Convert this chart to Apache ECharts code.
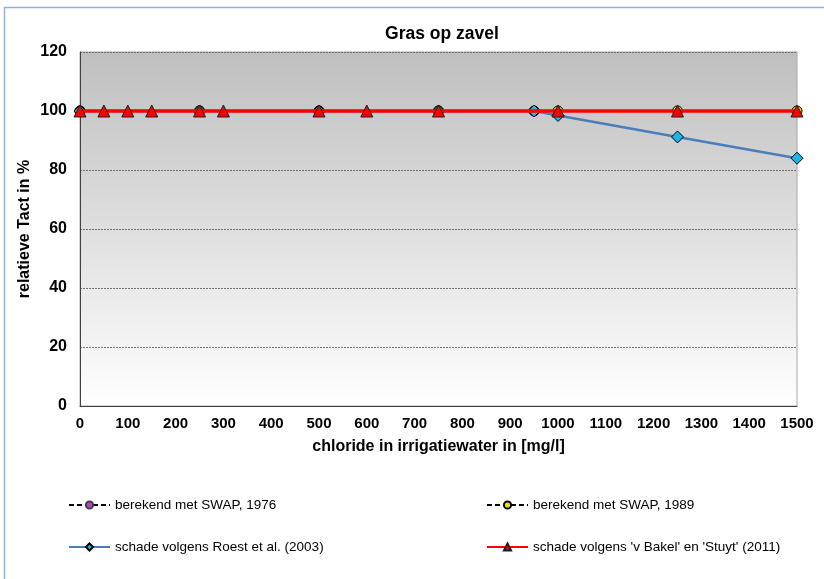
<!DOCTYPE html>
<html>
<head>
<meta charset="utf-8">
<script src="https://cdn.jsdelivr.net/npm/echarts@6/dist/echarts.min.js"></script>
<style>
html,body{margin:0;padding:0;background:#fff;}
#chart{width:824px;height:579px;}
</style>
</head>
<body>
<div id="chart"></div>
<script>
// chloride concentration (mg/l) vs. relative transpiration (%)
const xTicks = [0, 100, 200, 300, 400, 500, 600, 700, 800, 900, 1000, 1100, 1200, 1300, 1400, 1500];
const swap1976X = [0, 250, 500, 750, 950];
const swap1976Y = [100, 100, 100, 100, 100];
const swap1989X = [0, 250, 500, 750, 1000, 1250, 1500];
const swap1989Y = [100, 100, 100, 100, 100, 100, 100];
const roestX = [0, 250, 500, 750, 950, 1000, 1250, 1500];
const roestY = [100, 100, 100, 100, 100, 98.5, 91.2, 84];
const bakelX = [0, 50, 100, 150, 250, 300, 500, 600, 750, 1000, 1250, 1500];
const bakelY = [100, 100, 100, 100, 100, 100, 100, 100, 100, 100, 100, 100];

const pairs = (xs, ys) => xs.map((x, i) => [x, ys[i]]);
const font = '"Liberation Sans", Arial, sans-serif';
const legendText = { fontSize: 13.5, color: '#000', fontFamily: font };

const chart = echarts.init(document.getElementById('chart'));
chart.setOption({
  animation: false,
  textStyle: { fontFamily: font },
  title: {
    text: 'Gras op zavel',
    left: 437, top: 20, textAlign: 'center',
    textStyle: { fontSize: 17.5, fontWeight: 'bold', color: '#000', fontFamily: font }
  },
  graphic: [{
    type: 'rect', silent: true, z: -10,
    shape: { x: 4.5, y: 7.5, width: 840, height: 600 },
    style: { fill: 'none', stroke: '#8db3e2', lineWidth: 1.5 }
  }],
  grid: {
    left: 80, right: 27, top: 52, bottom: 173,
    show: true,
    borderColor: '#a8a8a8', borderWidth: 1,
    backgroundColor: {
      type: 'linear', x: 0, y: 0, x2: 0, y2: 1,
      colorStops: [{ offset: 0, color: '#bfbfbf' }, { offset: 1, color: '#ffffff' }]
    }
  },
  xAxis: {
    type: 'value', min: 0, max: 1500, interval: 100,
    name: 'chloride in irrigatiewater in [mg/l]',
    nameLocation: 'middle', nameGap: 33,
    nameTextStyle: { fontSize: 16, fontWeight: 'bold', color: '#000' },
    axisLine: { show: true, lineStyle: { color: '#404040', width: 1 } },
    axisTick: { show: false },
    splitLine: { show: false },
    axisLabel: {
      fontSize: 15, fontWeight: 'bold', color: '#000', margin: 10,
      formatter: v => xTicks.includes(v) ? String(v) : ''
    }
  },
  yAxis: {
    type: 'value', min: 0, max: 120, interval: 20,
    name: 'relatieve Tact in %',
    nameLocation: 'middle', nameGap: 47, nameRotate: 90,
    nameMoveOverlap: false,
    nameTextStyle: { fontSize: 16, fontWeight: 'bold', color: '#000' },
    axisLine: { show: true, lineStyle: { color: '#404040', width: 1 } },
    axisTick: { show: false },
    splitLine: { show: true, lineStyle: { color: '#707070', type: [2, 1], width: 1 } },
    axisLabel: { fontSize: 16, fontWeight: 'bold', color: '#000', margin: 13 }
  },
  legend: [{
    left: 63, top: 493, itemWidth: 41, itemHeight: 9, itemGap: 28,
    orient: 'vertical',
    textStyle: legendText,
    data: [
      { name: 'berekend met SWAP, 1976', itemStyle: { color: '#c040c0', borderColor: '#404040' } },
      'schade volgens Roest et al. (2003)'
    ]
  }, {
    left: 481, top: 493, itemWidth: 41, itemHeight: 9, itemGap: 28,
    orient: 'vertical',
    textStyle: legendText,
    data: ['berekend met SWAP, 1989', "schade volgens 'v Bakel' en 'Stuyt' (2011)"]
  }],
  series: [{
    name: 'berekend met SWAP, 1976', type: 'line',
    data: pairs(swap1976X, swap1976Y),
    symbol: 'circle', symbolSize: 10,
    lineStyle: { color: '#000', width: 2, type: [5, 3] },
    itemStyle: { color: '#1a1a1a', borderColor: '#000', borderWidth: 1 },
    z: 2
  }, {
    name: 'berekend met SWAP, 1989', type: 'line',
    data: pairs(swap1989X, swap1989Y),
    symbol: 'circle', symbolSize: 10,
    lineStyle: { color: '#000', width: 2, type: [5, 3] },
    itemStyle: { color: '#e8e800', borderColor: '#000', borderWidth: 1 },
    z: 3
  }, {
    name: 'schade volgens Roest et al. (2003)', type: 'line',
    data: pairs(roestX, roestY),
    symbol: 'diamond', symbolSize: 12,
    lineStyle: { color: '#4a7ebb', width: 2.5 },
    itemStyle: { color: '#1fb4e8', borderColor: '#000', borderWidth: 1 },
    z: 4
  }, {
    name: "schade volgens 'v Bakel' en 'Stuyt' (2011)", type: 'line',
    data: pairs(bakelX, bakelY),
    symbol: 'triangle', symbolSize: 12,
    lineStyle: { color: '#ff0000', width: 3.5 },
    itemStyle: { color: '#ff0000', borderColor: '#202020', borderWidth: 1 },
    z: 5
  }]
});
</script>
</body>
</html>
